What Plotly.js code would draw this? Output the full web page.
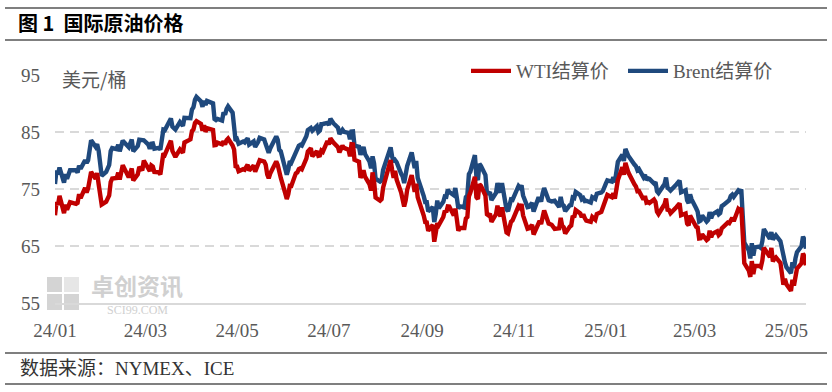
<!DOCTYPE html>
<html><head><meta charset="utf-8">
<script src="https://cdn.plot.ly/plotly-3.0.1.min.js"></script>
<style>html,body{margin:0;padding:0;background:#fff}#chart{width:832px;height:392px}</style>
</head><body><div id="chart"></div>
<script>
const dates = [
'2024-01-02','2024-01-03','2024-01-04','2024-01-05','2024-01-08','2024-01-09','2024-01-10','2024-01-11','2024-01-12','2024-01-16','2024-01-17','2024-01-18','2024-01-19','2024-01-22','2024-01-23','2024-01-24','2024-01-25','2024-01-26','2024-01-29','2024-01-30','2024-01-31',
'2024-02-01','2024-02-02','2024-02-05','2024-02-06','2024-02-07','2024-02-08','2024-02-09','2024-02-12','2024-02-13','2024-02-14','2024-02-15','2024-02-16','2024-02-20','2024-02-21','2024-02-22','2024-02-23','2024-02-26','2024-02-27','2024-02-28','2024-02-29',
'2024-03-01','2024-03-04','2024-03-05','2024-03-06','2024-03-07','2024-03-08','2024-03-11','2024-03-12','2024-03-13','2024-03-14','2024-03-15','2024-03-18','2024-03-19','2024-03-20','2024-03-21','2024-03-22','2024-03-25','2024-03-26','2024-03-27','2024-03-28',
'2024-04-01','2024-04-02','2024-04-03','2024-04-04','2024-04-05','2024-04-08','2024-04-09','2024-04-10','2024-04-11','2024-04-12','2024-04-15','2024-04-16','2024-04-17','2024-04-18','2024-04-19','2024-04-22','2024-04-23','2024-04-24','2024-04-25','2024-04-26','2024-04-29','2024-04-30',
'2024-05-01','2024-05-02','2024-05-03','2024-05-06','2024-05-07','2024-05-08','2024-05-09','2024-05-10','2024-05-13','2024-05-14','2024-05-15','2024-05-16','2024-05-17','2024-05-20','2024-05-21','2024-05-22','2024-05-23','2024-05-24','2024-05-28','2024-05-29','2024-05-30','2024-05-31',
'2024-06-03','2024-06-04','2024-06-05','2024-06-06','2024-06-07','2024-06-10','2024-06-11','2024-06-12','2024-06-13','2024-06-14','2024-06-17','2024-06-18','2024-06-20','2024-06-21','2024-06-24','2024-06-25','2024-06-26','2024-06-27','2024-06-28',
'2024-07-01','2024-07-02','2024-07-03','2024-07-05','2024-07-08','2024-07-09','2024-07-10','2024-07-11','2024-07-12','2024-07-15','2024-07-16','2024-07-17','2024-07-18','2024-07-19','2024-07-22','2024-07-23','2024-07-24','2024-07-25','2024-07-26','2024-07-29','2024-07-30','2024-07-31',
'2024-08-01','2024-08-02','2024-08-05','2024-08-06','2024-08-07','2024-08-08','2024-08-09','2024-08-12','2024-08-13','2024-08-14','2024-08-15','2024-08-16','2024-08-19','2024-08-20','2024-08-21','2024-08-22','2024-08-23','2024-08-26','2024-08-27','2024-08-28','2024-08-29','2024-08-30',
'2024-09-03','2024-09-04','2024-09-05','2024-09-06','2024-09-09','2024-09-10','2024-09-11','2024-09-12','2024-09-13','2024-09-16','2024-09-17','2024-09-18','2024-09-19','2024-09-20','2024-09-23','2024-09-24','2024-09-25','2024-09-26','2024-09-27','2024-09-30',
'2024-10-01','2024-10-02','2024-10-03','2024-10-04','2024-10-07','2024-10-08','2024-10-09','2024-10-10','2024-10-11','2024-10-14','2024-10-15','2024-10-16','2024-10-17','2024-10-18','2024-10-21','2024-10-22','2024-10-23','2024-10-24','2024-10-25','2024-10-28','2024-10-29','2024-10-30','2024-10-31',
'2024-11-01','2024-11-04','2024-11-05','2024-11-06','2024-11-07','2024-11-08','2024-11-11','2024-11-12','2024-11-13','2024-11-14','2024-11-15','2024-11-18','2024-11-19','2024-11-20','2024-11-21','2024-11-22','2024-11-25','2024-11-26','2024-11-27','2024-11-29',
'2024-12-02','2024-12-03','2024-12-04','2024-12-05','2024-12-06','2024-12-09','2024-12-10','2024-12-11','2024-12-12','2024-12-13','2024-12-16','2024-12-17','2024-12-18','2024-12-19','2024-12-20','2024-12-23','2024-12-24','2024-12-26','2024-12-27','2024-12-30','2024-12-31',
'2025-01-02','2025-01-03','2025-01-06','2025-01-07','2025-01-08','2025-01-10','2025-01-13','2025-01-14','2025-01-15','2025-01-16','2025-01-17','2025-01-21','2025-01-22','2025-01-23','2025-01-24','2025-01-27','2025-01-28','2025-01-29','2025-01-30','2025-01-31',
'2025-02-03','2025-02-04','2025-02-05','2025-02-06','2025-02-07','2025-02-10','2025-02-11','2025-02-12','2025-02-13','2025-02-14','2025-02-18','2025-02-19','2025-02-20','2025-02-21','2025-02-24','2025-02-25','2025-02-26','2025-02-27','2025-02-28',
'2025-03-03','2025-03-04','2025-03-05','2025-03-06','2025-03-07','2025-03-10','2025-03-11','2025-03-12','2025-03-13','2025-03-14','2025-03-17','2025-03-18','2025-03-19','2025-03-20','2025-03-21','2025-03-24','2025-03-25','2025-03-26','2025-03-27','2025-03-28','2025-03-31',
'2025-04-01','2025-04-02','2025-04-03','2025-04-04','2025-04-07','2025-04-08','2025-04-09','2025-04-10','2025-04-11','2025-04-14','2025-04-15','2025-04-16','2025-04-17','2025-04-21','2025-04-22','2025-04-23','2025-04-24','2025-04-25','2025-04-28','2025-04-29','2025-04-30',
'2025-05-01','2025-05-02','2025-05-05','2025-05-06','2025-05-07','2025-05-08','2025-05-09','2025-05-12','2025-05-13','2025-05-14','2025-05-15'
];
const wti = [
70.38,72.70,72.19,73.81,70.77,72.24,71.37,72.02,72.68,72.40,72.56,74.08,73.41,75.19,74.37,75.09,77.36,78.01,76.78,77.82,75.85,
73.82,72.28,72.78,73.31,73.86,76.22,76.84,76.92,77.87,76.64,78.03,79.19,77.04,77.91,78.61,76.49,77.58,78.87,78.54,78.26,
79.97,78.74,78.15,79.13,78.93,78.01,77.93,77.56,79.72,81.26,81.04,82.72,83.47,81.68,81.07,80.63,81.95,81.62,81.35,83.17,
83.71,85.15,85.43,86.59,86.91,86.43,85.23,86.21,85.02,85.66,85.41,85.36,82.69,82.73,83.14,82.85,83.36,82.81,83.57,83.85,82.63,81.93,
79.00,78.95,78.11,78.48,78.38,78.99,79.26,78.26,79.12,78.02,78.63,79.23,80.06,79.80,79.26,77.57,76.87,77.72,79.83,79.23,77.91,76.99,
74.22,73.25,74.07,75.55,75.53,77.74,77.90,78.50,78.62,78.45,80.33,81.57,82.17,80.73,81.63,80.83,80.90,81.74,81.54,
83.38,82.81,83.88,83.16,82.33,81.41,82.10,82.62,82.21,81.91,80.76,82.85,82.82,80.13,79.78,76.96,77.59,78.28,77.16,75.81,74.73,77.91,
76.31,73.52,72.94,73.20,75.23,76.19,76.84,80.06,78.35,76.98,78.16,76.65,74.37,73.17,71.93,73.01,74.83,77.42,75.53,74.52,75.91,73.55,
70.34,69.20,69.15,67.67,68.71,65.75,67.31,68.97,68.65,70.09,71.19,70.91,71.95,71.92,70.37,71.56,69.69,67.67,68.18,68.17,
69.83,70.10,73.71,74.38,77.14,73.57,73.24,75.85,75.56,73.83,70.58,70.39,70.67,69.22,70.56,72.09,70.77,70.19,71.78,67.38,67.21,68.61,69.26,
69.49,71.47,71.99,71.69,72.36,70.38,68.04,68.12,68.43,68.70,67.02,69.16,69.39,68.87,70.10,71.24,68.94,68.77,68.72,68.00,
68.10,69.94,68.54,68.30,67.20,68.37,68.59,70.29,70.02,71.29,70.71,70.08,70.58,69.91,69.46,69.24,70.10,69.62,70.60,70.99,71.72,
73.13,73.96,73.56,74.25,73.32,76.57,78.82,77.50,79.60,78.68,77.88,75.83,75.44,74.62,74.66,73.17,73.77,72.62,72.73,72.53,
73.16,72.70,71.03,70.61,71.00,72.32,73.32,71.37,71.29,70.74,71.85,72.25,72.48,70.40,70.70,68.93,68.62,70.35,69.76,
68.37,68.26,66.31,66.36,67.04,66.03,66.25,67.68,66.55,67.18,67.58,66.90,67.16,68.07,68.28,69.11,69.00,69.65,69.92,69.36,71.48,
71.20,71.71,66.95,61.99,60.70,59.58,62.35,60.07,61.50,61.53,61.33,62.47,64.68,63.08,64.67,62.27,62.79,63.02,62.05,60.42,58.21,
59.24,58.29,57.13,59.09,58.07,59.91,61.02,61.95,63.67,63.15,61.62
];
const brent = [
75.89,78.25,77.59,78.76,76.12,77.59,76.80,77.41,78.29,78.29,77.88,79.10,78.56,80.06,79.55,80.04,82.43,83.55,82.40,82.87,81.71,
78.70,77.33,77.99,78.59,79.21,81.63,82.19,82.00,82.77,81.60,82.86,83.47,82.34,83.03,83.67,81.62,82.53,83.65,83.68,83.62,
83.55,82.80,82.04,82.96,83.00,82.08,82.21,81.92,84.03,85.42,85.34,86.89,87.38,85.95,85.78,85.43,86.75,86.25,86.09,87.48,
87.42,88.92,89.35,90.65,91.17,90.38,89.42,90.48,89.74,90.45,90.10,90.02,87.29,87.11,87.29,87.00,88.42,88.02,89.01,89.50,88.40,86.33,
83.44,83.67,82.96,83.33,83.16,83.58,83.88,82.79,83.36,82.38,82.75,83.27,83.98,83.71,82.88,81.90,81.36,82.12,84.22,83.60,81.86,81.62,
78.36,77.52,78.41,79.87,79.62,81.63,81.92,82.60,82.75,82.62,84.25,85.33,85.71,85.24,86.01,85.01,85.25,86.39,86.41,
86.60,86.24,87.34,86.54,85.75,84.66,85.08,85.40,85.03,84.85,83.73,85.08,85.11,82.63,82.40,81.01,81.71,82.37,81.13,79.78,78.63,80.72,
79.52,76.81,76.30,76.48,78.33,79.16,79.66,82.30,80.69,79.76,80.04,79.68,77.66,77.20,76.05,77.22,79.02,81.43,79.55,78.65,79.94,76.93,
73.75,72.70,72.69,71.06,71.84,69.19,70.61,72.97,71.61,72.75,73.70,73.65,74.88,74.49,73.90,75.17,73.46,71.60,71.98,71.77,
73.56,73.90,77.62,78.05,80.93,77.18,76.58,79.40,79.04,77.46,74.25,74.22,74.45,73.06,74.29,76.04,74.96,74.38,76.05,71.42,71.12,72.55,73.16,
73.10,75.08,75.53,75.23,75.63,73.87,71.83,71.89,72.28,72.56,71.04,73.30,73.31,72.81,74.23,75.17,73.01,72.81,72.83,72.94,
71.83,73.62,72.31,72.09,71.12,72.14,72.19,73.52,73.41,74.49,73.91,73.19,73.39,72.88,72.94,72.63,73.58,73.26,74.17,74.39,74.64,
75.93,76.51,76.30,77.05,76.16,79.76,81.01,79.92,82.03,81.29,80.79,79.29,79.00,78.29,78.50,77.08,77.49,76.58,76.87,76.76,
75.96,76.20,74.61,74.29,74.66,75.87,77.00,75.18,75.02,74.74,75.84,76.04,76.48,74.43,74.78,73.02,72.53,74.04,73.18,
71.62,71.04,69.30,69.46,70.36,69.28,69.56,70.95,69.88,70.58,71.07,70.56,70.78,72.00,72.16,73.00,73.02,73.79,74.03,73.63,74.74,
74.49,74.95,70.14,65.58,64.21,62.82,65.48,63.33,64.76,64.88,64.67,65.85,67.96,66.26,67.44,66.12,66.55,66.87,65.86,64.25,63.12,
62.13,61.29,60.23,62.15,61.12,62.84,63.91,64.96,66.63,66.09,64.53
];
const seriesNames = ['WTI结算价', 'Brent结算价'];
const seriesColors = ['#C00000', '#1F497D'];
const tickDates = ['2024-01-02','2024-03-02','2024-05-02','2024-07-02','2024-09-02','2024-11-02','2025-01-02','2025-03-02','2025-05-02'];
const tickLabels = ['24/01','24/03','24/05','24/07','24/09','24/11','25/01','25/03','25/05'];
const yTicks = [55, 65, 75, 85, 95];
const chartTitle = '图 1  国际原油价格';
const unitText = '美元/桶';
const sourceText = '数据来源：NYMEX、ICE';

const W = 832, H = 392, L = 55, R = 26, T = 75, B = 89;
const pw = W - L - R, ph = H - T - B;
const px = x => (x - L) / pw;
const py = y => (H - B - y) / ph;
const latin = 'Liberation Serif, Noto Sans CJK SC, serif';
const cjk = 'Noto Sans CJK SC, sans-serif';

const traces = [
  {x: dates, y: brent, name: seriesNames[1], type: 'scatter', mode: 'lines',
   line: {color: seriesColors[1], width: 4.4}},
  {x: dates, y: wti, name: seriesNames[0], type: 'scatter', mode: 'lines',
   line: {color: seriesColors[0], width: 4.4}}
];

const hline = (y) => ({type: 'line', xref: 'paper', yref: 'paper', x0: px(5), x1: px(827), y0: py(y), y1: py(y),
  line: {color: '#000', width: 1.2}});
const rect = (x0, y0, x1, y1, c) => ({type: 'rect', xref: 'paper', yref: 'paper', layer: 'below',
  x0: px(x0), x1: px(x1), y0: py(y1), y1: py(y0), fillcolor: c, line: {width: 0}});

const layout = {
  width: W, height: H,
  margin: {l: L, r: R, t: T, b: B, pad: 0, autoexpand: false},
  paper_bgcolor: '#fff', plot_bgcolor: 'rgba(0,0,0,0)',
  showlegend: true,
  legend: {orientation: 'h', x: px(466), y: py(71), xanchor: 'left', yanchor: 'middle',
    bgcolor: 'rgba(0,0,0,0)', traceorder: 'reversed',
    font: {family: latin, size: 19, color: '#595959'},
    entrywidth: 102, entrywidthmode: 'pixels', itemwidth: 40},
  title: {text: '<b>' + chartTitle + '</b>', xref: 'container', yref: 'container',
    x: 18 / W, xanchor: 'left', y: 1 - 24 / H, yanchor: 'middle',
    font: {family: cjk, size: 20, color: '#000'}},
  xaxis: {type: 'date', range: [dates[0], dates[dates.length - 1]],
    tickmode: 'array', tickvals: tickDates, ticktext: tickLabels,
    showgrid: false, zeroline: false, showline: true, linecolor: '#D9D9D9', linewidth: 2,
    ticks: '', ticklabelstandoff: 9,
    tickfont: {family: latin, size: 19, color: '#595959'}, fixedrange: true},
  yaxis: {range: [55, 95], tickmode: 'array', tickvals: yTicks,
    showgrid: true, gridcolor: '#D9D9D9', gridwidth: 2, griddash: '9px,6px',
    zeroline: false, showline: false, ticks: '', ticklabelstandoff: 14,
    tickfont: {family: latin, size: 19, color: '#595959'}, fixedrange: true},
  shapes: [
    hline(8), hline(40), hline(353), hline(384),
    rect(47, 277, 62, 292, '#D4D4D4'), rect(64, 277, 79, 292, '#E6E6E6'),
    rect(47, 294, 62, 310, '#D4D4D4'), rect(64, 294, 79, 310, '#D4D4D4')
  ],
  annotations: [
    {text: unitText, xref: 'paper', yref: 'paper', x: px(60), y: py(78), xanchor: 'left', yanchor: 'middle',
     showarrow: false, font: {family: cjk, size: 19, color: '#595959'}},
    {text: sourceText, xref: 'paper', yref: 'paper', x: px(18), y: py(368), xanchor: 'left', yanchor: 'middle',
     showarrow: false, font: {family: latin, size: 19, color: '#333'}},
    {text: '<b>卓创资讯</b>', xref: 'paper', yref: 'paper', x: px(137), y: py(285), xanchor: 'center', yanchor: 'middle',
     showarrow: false, font: {family: cjk, size: 23, color: '#D0D0D0'}},
    {text: 'SCI99.COM', xref: 'paper', yref: 'paper', x: px(137), y: py(310), xanchor: 'center', yanchor: 'middle',
     showarrow: false, font: {family: latin, size: 12, color: '#D0D0D0'}}
  ]
};

Plotly.newPlot('chart', traces, layout, {staticPlot: true, displayModeBar: false});
</script></body></html>
